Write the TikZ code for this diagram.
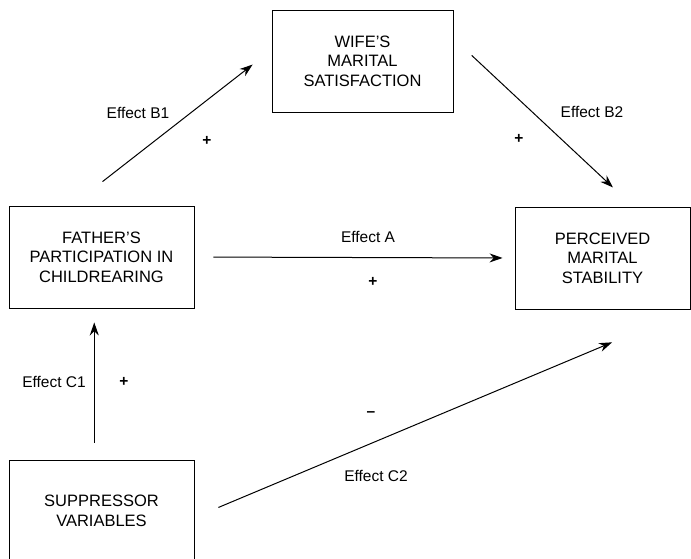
\documentclass[tikz,border=0pt]{standalone}
\usepackage{fontspec}
\setmainfont{Liberation Sans}
\usetikzlibrary{arrows.meta}

\begin{document}
\begin{tikzpicture}[
    x=1pt, y=-1pt,
    every node/.style={font=\fontsize{15.5}{18}\selectfont},
    box/.style={draw, line width=0.9pt, align=center, minimum width=185pt, minimum height=102pt, inner sep=0pt, font=\fontsize{16.5}{19.5}\selectfont},
    sign/.style={font=\fontsize{15.5}{18}\selectfont\bfseries},
    flow/.style={-{Stealth[length=13pt, width=9pt]}, line width=1pt}
]
\useasboundingbox (0,0) rectangle (691,558);
\clip (0,0) rectangle (691,558);
\node[box] (father) at (101.5,257) {FATHER'S\\PARTICIPATION IN\\CHILDREARING};
\node[box, minimum width=181pt] (wife) at (362.5,61) {WIFE'S\\MARITAL\\SATISFACTION};
\node[box, minimum width=175pt] (stability) at (602.5,258) {PERCEIVED\\MARITAL\\STABILITY};
\node[box] (suppressor) at (101.5,511) {SUPPRESSOR\\VARIABLES};
% effect labels
\node (effB1) at (138,113) {Effect B1};
\node[sign] (signB1) at (207,141) {+};
\node (effB2) at (592,112) {Effect B2};
\node[sign] (signB2) at (519,139) {+};
\node (effA) at (368,237) {Effect A};
\node[sign] (signA) at (373,282) {+};
\node (effC1) at (54,382) {Effect C1};
\node[sign] (signC1) at (124,382) {+};
\node[sign] (signC2) at (371,414) {--};
\node (effC2) at (376,476) {Effect C2};
\draw[flow, shorten <=39pt, shorten >=24pt] (father.120) -- (wife.173);
\draw[flow, shorten <=25pt, shorten >=28pt] (wife.14) -- (stability.59);
\draw[flow, shorten <=19pt, shorten >=12pt] (father.east) -- (stability.west);
\draw[flow, shorten <=17pt, shorten >=14pt] (suppressor.98) -- (father.262);
\draw[flow, shorten <=26pt, shorten >=85pt] (suppressor.-4) -- (stability.south east);
\end{tikzpicture}
\end{document}
